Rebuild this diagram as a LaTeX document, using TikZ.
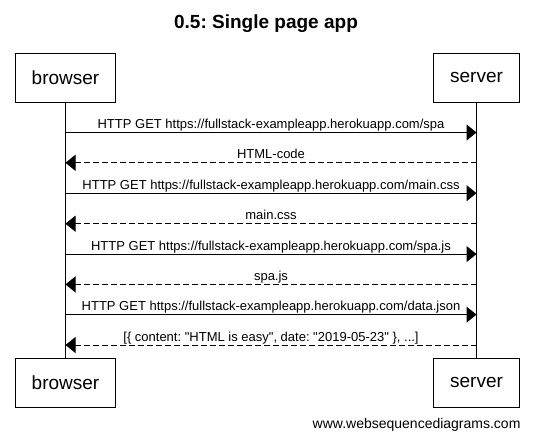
\documentclass[tikz,border=0pt]{standalone}
\usepackage{fontspec}
\setmainfont{Liberation Sans}
\newfontfamily\msgfont{Liberation Sans}
\frenchspacing
\usetikzlibrary{arrows.meta, positioning}
\tikzstyle{actor} = [rectangle, draw, line width=1pt,
minimum height=49pt, inner xsep=16.5pt,
font=\fontsize{19}{22}\selectfont]
\tikzstyle{lifeline} = [line width=1pt]
\tikzstyle{call} = [line width=1pt, -{Triangle[length=10pt, width=16pt]}]
\tikzstyle{reply} = [call, dash pattern=on 6pt off 3pt]
\tikzstyle{msg} = [midway, anchor=base, yshift=4pt, inner sep=0pt,
font=\msgfont\fontsize{13}{15}\selectfont]

\begin{document}
\begin{tikzpicture}[x=1pt, y=-1pt]
    \useasboundingbox (0,0) rectangle (534,442);
    \node (title) [anchor=base, font=\bfseries\fontsize{19}{22}\selectfont]
        at (266,28) {0.5: Single page app};
    \node (browser) [actor] at (65.5,77.5) {browser};
    \node (server) [actor] at (476.5,77.5) {server};
    \node (browser2) [actor] at (65.5,382.5) {browser};
    \node (server2) [actor] at (476.5,382.5) {server};

    \draw [lifeline] (browser) -- (browser2);
    \draw [lifeline] (server) -- (server2);

    \coordinate (b1) at (65.5,132.5);   \coordinate (s1) at (476.5,132.5);
    \coordinate (b2) at (65.5,162.8);   \coordinate (s2) at (476.5,162.8);
    \coordinate (b3) at (65.5,193.2);   \coordinate (s3) at (476.5,193.2);
    \coordinate (b4) at (65.5,223.7);   \coordinate (s4) at (476.5,223.7);
    \coordinate (b5) at (65.5,254.1);   \coordinate (s5) at (476.5,254.1);
    \coordinate (b6) at (65.5,284.4);   \coordinate (s6) at (476.5,284.4);
    \coordinate (b7) at (65.5,314.6);   \coordinate (s7) at (476.5,314.6);
    \coordinate (b8) at (65.5,345);     \coordinate (s8) at (476.5,345);

    \draw [call] (b1) -- node[msg]
        {HTTP GET https://fullstack-exampleapp.herokuapp.com/spa} (s1);
    \draw [reply] (s2) -- node[msg] {HTML-code} (b2);
    \draw [call] (b3) -- node[msg]
        {HTTP GET https://fullstack-exampleapp.herokuapp.com/main.css} (s3);
    \draw [reply] (s4) -- node[msg] {main.css} (b4);
    \draw [call] (b5) -- node[msg]
        {HTTP GET https://fullstack-exampleapp.herokuapp.com/spa.js} (s5);
    \draw [reply] (s6) -- node[msg] {spa.js} (b6);
    \draw [call] (b7) -- node[msg]
        {HTTP GET https://fullstack-exampleapp.herokuapp.com/data.json} (s7);
    \draw [reply] (s8) -- node[msg]
        {[\{ content: "HTML is easy", date: "2019-05-23" \}, ...]} (b8);

    \node (footer) [anchor=base east, font=\fontsize{14}{16}\selectfont]
        at (524,428) {www.websequencediagrams.com};
\end{tikzpicture}
\end{document}
